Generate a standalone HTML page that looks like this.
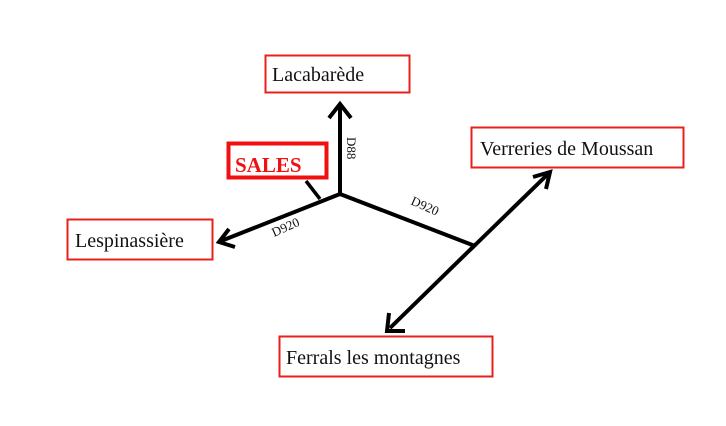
<!DOCTYPE html>
<html><head><meta charset="utf-8"><style>
html,body{margin:0;padding:0;background:#fff;width:726px;height:426px;overflow:hidden}
svg{display:block}
text{font-family:"Liberation Serif",serif;fill:#111}
</style></head><body>
<svg width="726" height="426" viewBox="0 0 726 426">
<rect x="265.5" y="55.5" width="144" height="37" fill="none" stroke="#e8201c" stroke-width="2"/>
<text x="272" y="81" font-size="20">Lacabarède</text>
<rect x="471.5" y="127.5" width="212" height="40" fill="none" stroke="#e8201c" stroke-width="2"/>
<text x="480" y="155" font-size="20">Verreries de Moussan</text>
<rect x="67.5" y="219.5" width="145" height="40" fill="none" stroke="#e8201c" stroke-width="2"/>
<text x="75" y="247" font-size="20">Lespinassière</text>
<rect x="279.5" y="336.5" width="213" height="40" fill="none" stroke="#e8201c" stroke-width="2"/>
<text x="286" y="364" font-size="20">Ferrals les montagnes</text>
<rect x="228.5" y="143.5" width="98" height="34" fill="none" stroke="#f01010" stroke-width="4"/>
<text x="235" y="172" font-size="21" font-weight="bold" style="fill:#f01010">SALES</text>
<g stroke="#000" stroke-width="4" fill="none" stroke-linecap="butt" stroke-linejoin="miter">
<line x1="340" y1="196" x2="340" y2="106"/>
<polyline points="329,118 340,104 351,118"/>
<line x1="340" y1="194" x2="221" y2="241"/>
<polyline points="229,229 219,242 235,247"/>
<line x1="340" y1="194" x2="475" y2="246"/>
<line x1="306" y1="181" x2="320" y2="199" stroke-width="3.5"/>
<line x1="470" y1="250" x2="548" y2="174"/>
<polyline points="533,177 550,172 546,189"/>
<line x1="476" y1="244" x2="390" y2="328"/>
<polyline points="389,313 387,331 405,331"/>
</g>
<text x="0" y="0" font-size="13" transform="translate(347,137) rotate(90)">D88</text>
<text x="0" y="0" font-size="13" transform="translate(274,237) rotate(-24)">D920</text>
<text x="0" y="0" font-size="13" transform="translate(410,204) rotate(24)">D920</text>
</svg>
</body></html>
